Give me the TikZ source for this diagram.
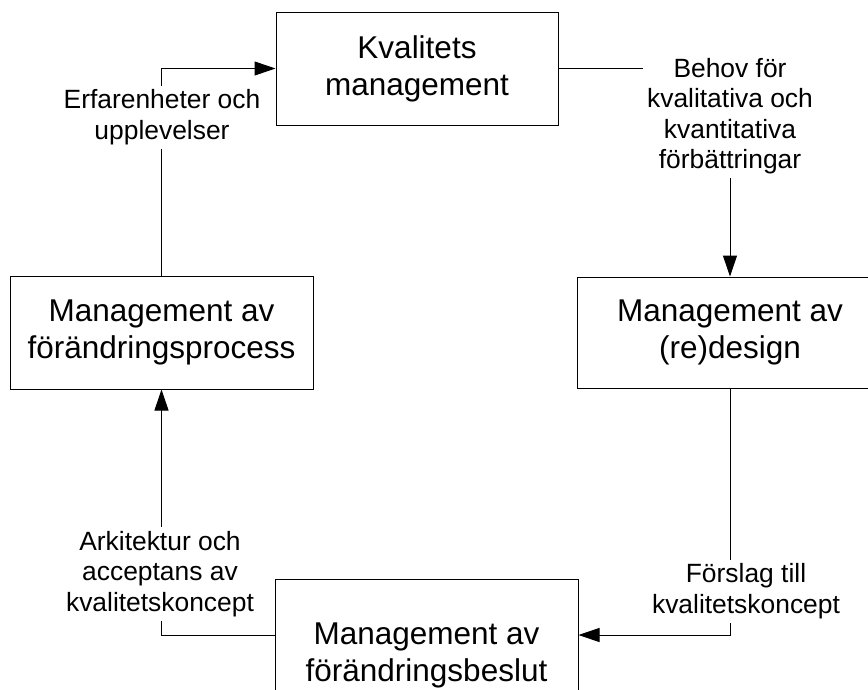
\documentclass[tikz,border=0pt]{standalone}
\usepackage{fontspec}
\setmainfont{Liberation Sans}
\usetikzlibrary{arrows.meta}
\begin{document}
\begin{tikzpicture}[x=1pt,y=-1pt,
  box/.style={draw, line width=1pt, inner sep=0pt, align=center, font=\fontsize{31.5}{37}\selectfont},
  lbl/.style={fill=white, inner sep=4pt, align=center, font=\fontsize{26.4}{30.4}\selectfont},
  conn/.style={line width=1pt},
  arr/.style={conn, -{Triangle[length=21pt,width=14pt]}}]
\clip (0,0) rectangle (868,689);
\fill[white] (0,0) rectangle (868,689);
\node[box, minimum width=282pt, minimum height=113pt] (top) at (417,68.5) {Kvalitets\\management};
\node[box, minimum width=303pt, minimum height=113pt] (left) at (161.5,332.5) {Management av\\förändringsprocess};
\node[box, minimum width=306pt, minimum height=111pt] (right) at (730,332.5) {Management av\\(re)design};
\node[box, minimum width=303pt, minimum height=152pt] (bottom) at (426.5,655) {Management av\\förändringsbeslut};
\draw[arr] (left.north) |- (top.west);
\draw[arr] (top.east) -| (right.north);
\draw[arr] (right.south) |- ([yshift=20pt]bottom.east);
\draw[arr] ([yshift=20pt]bottom.west) -| (left.south);
\node[lbl] (l1) at (162,117) {Erfarenheter och\\upplevelser};
\node[lbl] (l2) at (730,116) {Behov för\\kvalitativa och\\kvantitativa\\förbättringar};
\node[lbl] (l3) at (746,591) {Förslag till\\kvalitetskoncept};
\node[lbl] (l4) at (160,574) {Arkitektur och\\acceptans av\\kvalitetskoncept};
\end{tikzpicture}
\end{document}
